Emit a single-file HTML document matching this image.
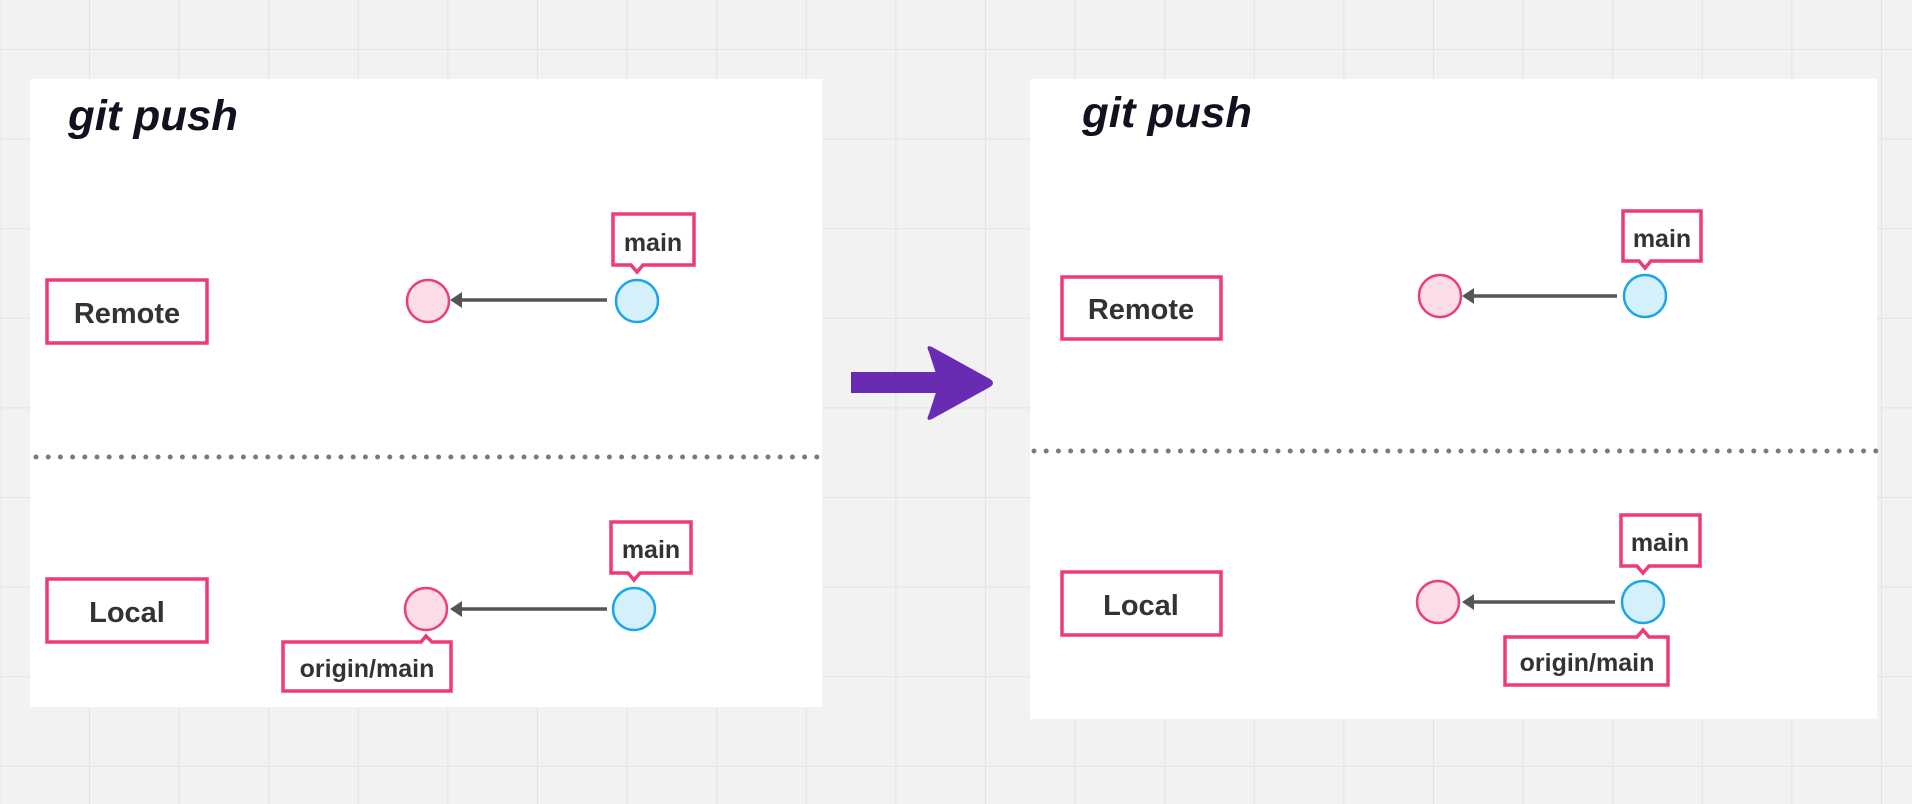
<!DOCTYPE html>
<html><head><meta charset="utf-8"><style>
html,body{margin:0;padding:0;width:1912px;height:804px;overflow:hidden;background:#f2f2f2}
svg{display:block}
text{font-family:"Liberation Sans",sans-serif;font-weight:bold}
</style></head><body>
<svg width="1912" height="804" viewBox="0 0 1912 804" xmlns="http://www.w3.org/2000/svg">
<defs>
<pattern id="g" x="89" y="49" width="89.6" height="89.6" patternUnits="userSpaceOnUse">
<path d="M0 0H89.6M0 0V89.6" stroke="#e3e3e3" stroke-width="2" fill="none"/>
</pattern>
</defs>
<rect width="1912" height="804" fill="url(#g)"/>
<!-- left panel -->
<rect x="30" y="79" width="792" height="628" fill="#fff"/>
<text x="68" y="130" font-size="43" font-style="italic" fill="#13111f" textLength="170" lengthAdjust="spacingAndGlyphs">git push</text>
<rect x="47" y="280" width="160" height="63" fill="#fff" stroke="#ee3a78" stroke-width="3.5"/>
<text x="127" y="323" font-size="29" fill="#333" text-anchor="middle">Remote</text>
<line x1="607" y1="300" x2="458" y2="300" stroke="#555" stroke-width="3.5"/>
<path d="M462 292L450 300L462 308Z" fill="#555"/>
<circle cx="428" cy="301" r="21" fill="#fcdce7" stroke="#ea3f7a" stroke-width="2.5"/>
<circle cx="637" cy="301" r="21" fill="#d4f0fa" stroke="#1aa6ea" stroke-width="2.5"/>
<path d="M613 214H694V265H643L637 272L631 265H613Z" fill="#fff" stroke="#ee3a78" stroke-width="3.5"/>
<text x="653" y="251" font-size="25" fill="#333" text-anchor="middle">main</text>
<line x1="36" y1="457" x2="822" y2="457" stroke="#7a7a7a" stroke-width="5" stroke-linecap="round" stroke-dasharray="0 12.2"/>
<rect x="47" y="579" width="160" height="63" fill="#fff" stroke="#ee3a78" stroke-width="3.5"/>
<text x="127" y="622" font-size="29" fill="#333" text-anchor="middle">Local</text>
<line x1="607" y1="609" x2="458" y2="609" stroke="#555" stroke-width="3.5"/>
<path d="M462 601L450 609L462 617Z" fill="#555"/>
<circle cx="426" cy="609" r="21" fill="#fcdce7" stroke="#ea3f7a" stroke-width="2.5"/>
<circle cx="634" cy="609" r="21" fill="#d4f0fa" stroke="#1aa6ea" stroke-width="2.5"/>
<path d="M611 522H691V573H640L634 580L628 573H611Z" fill="#fff" stroke="#ee3a78" stroke-width="3.5"/>
<text x="651" y="558" font-size="25" fill="#333" text-anchor="middle">main</text>
<path d="M283 642H421L426 636L432 642H451V691H283Z" fill="#fff" stroke="#ee3a78" stroke-width="3.5"/>
<text x="367" y="677" font-size="25" fill="#333" text-anchor="middle">origin/main</text>
<!-- big arrow -->
<rect x="851" y="372" width="88" height="21" fill="#6a2bb3"/>
<path d="M932 347Q925 344 929 352L939 383L929 414Q925 422 932 419L990 387Q996 383 990 379Z" fill="#6a2bb3"/>
<!-- right panel -->
<rect x="1030" y="79" width="847" height="640" fill="#fff"/>
<text x="1082" y="127" font-size="43" font-style="italic" fill="#13111f" textLength="170" lengthAdjust="spacingAndGlyphs">git push</text>
<rect x="1062" y="277" width="159" height="62" fill="#fff" stroke="#ee3a78" stroke-width="3.5"/>
<text x="1141" y="319" font-size="29" fill="#333" text-anchor="middle">Remote</text>
<line x1="1617" y1="296" x2="1470" y2="296" stroke="#555" stroke-width="3.5"/>
<path d="M1474 288L1462 296L1474 304Z" fill="#555"/>
<circle cx="1440" cy="296" r="21" fill="#fcdce7" stroke="#ea3f7a" stroke-width="2.5"/>
<circle cx="1645" cy="296" r="21" fill="#d4f0fa" stroke="#1aa6ea" stroke-width="2.5"/>
<path d="M1623 211H1701V261H1651L1645 268L1639 261H1623Z" fill="#fff" stroke="#ee3a78" stroke-width="3.5"/>
<text x="1662" y="247" font-size="25" fill="#333" text-anchor="middle">main</text>
<line x1="1034" y1="451" x2="1877" y2="451" stroke="#7a7a7a" stroke-width="5" stroke-linecap="round" stroke-dasharray="0 12.2"/>
<rect x="1062" y="572" width="159" height="63" fill="#fff" stroke="#ee3a78" stroke-width="3.5"/>
<text x="1141" y="615" font-size="29" fill="#333" text-anchor="middle">Local</text>
<line x1="1615" y1="602" x2="1470" y2="602" stroke="#555" stroke-width="3.5"/>
<path d="M1474 594L1462 602L1474 610Z" fill="#555"/>
<circle cx="1438" cy="602" r="21" fill="#fcdce7" stroke="#ea3f7a" stroke-width="2.5"/>
<circle cx="1643" cy="602" r="21" fill="#d4f0fa" stroke="#1aa6ea" stroke-width="2.5"/>
<path d="M1621 515H1700V566H1649L1643 573L1637 566H1621Z" fill="#fff" stroke="#ee3a78" stroke-width="3.5"/>
<text x="1660" y="551" font-size="25" fill="#333" text-anchor="middle">main</text>
<path d="M1505 637H1637L1643 630L1649 637H1668V685H1505Z" fill="#fff" stroke="#ee3a78" stroke-width="3.5"/>
<text x="1587" y="671" font-size="25" fill="#333" text-anchor="middle">origin/main</text>
</svg>
</body></html>
